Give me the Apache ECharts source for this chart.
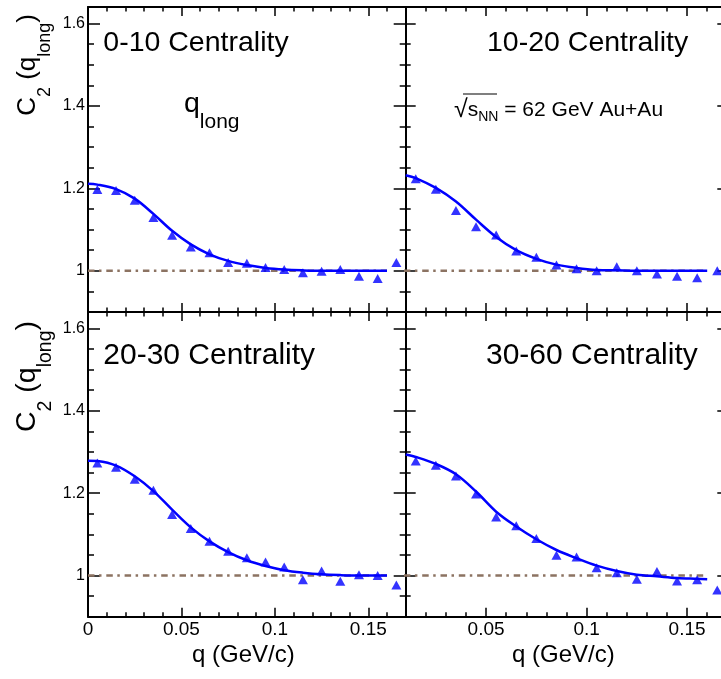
<!DOCTYPE html>
<html>
<head>
<meta charset="utf-8">
<script src="https://cdn.jsdelivr.net/npm/echarts@6/dist/echarts.min.js"></script>
<style>
html,body{margin:0;padding:0;background:#fff;}
#c{width:721px;height:679px;}
</style>
</head>
<body>
<div id="c"></div>
<script>
const FONT = '"Liberation Sans", Arial, Helvetica, sans-serif';

// ---- data ----
const qLeft  = [0.005, 0.015, 0.025, 0.035, 0.045, 0.055, 0.065, 0.075, 0.085, 0.095, 0.105, 0.115, 0.125, 0.135, 0.145, 0.155, 0.165];
const qRight = [0.015, 0.025, 0.035, 0.045, 0.055, 0.065, 0.075, 0.085, 0.095, 0.105, 0.115, 0.125, 0.135, 0.145, 0.155, 0.165];

const c2_0_10  = [1.197, 1.195, 1.171, 1.129, 1.086, 1.058, 1.044, 1.020, 1.018, 1.008, 1.003, 0.995, 0.999, 1.003, 0.987, 0.981, 1.020];
const c2_10_20 = [1.223, 1.198, 1.146, 1.107, 1.087, 1.048, 1.033, 1.014, 1.005, 1.000, 1.010, 1.000, 0.992, 0.987, 0.983, 1.000];
const c2_20_30 = [1.273, 1.263, 1.234, 1.207, 1.148, 1.114, 1.083, 1.059, 1.043, 1.033, 1.021, 0.990, 1.011, 0.986, 1.002, 1.000, 0.977];
const c2_30_60 = [1.278, 1.268, 1.242, 1.198, 1.142, 1.121, 1.090, 1.049, 1.045, 1.019, 1.007, 0.991, 1.010, 0.987, 0.990, 0.965];

const qFitLeft  = [0, 0.005, 0.015, 0.025, 0.035, 0.045, 0.055, 0.065, 0.075, 0.085, 0.095, 0.105, 0.115, 0.125, 0.135, 0.145, 0.155, 0.16];
const qFitRight = [0.01, 0.015, 0.025, 0.035, 0.045, 0.055, 0.065, 0.075, 0.085, 0.095, 0.105, 0.115, 0.125, 0.135, 0.145, 0.155, 0.16];

const fit_0_10  = [1.211, 1.209, 1.198, 1.175, 1.138, 1.097, 1.064, 1.040, 1.024, 1.014, 1.007, 1.003, 1.001, 1.000, 1.000, 1.000, 1.000, 1.000];
const fit_10_20 = [1.232, 1.225, 1.201, 1.168, 1.124, 1.082, 1.050, 1.029, 1.015, 1.007, 1.002, 1.001, 1.000, 1.000, 1.000, 1.000, 1.000];
const fit_20_30 = [1.279, 1.278, 1.267, 1.241, 1.205, 1.160, 1.117, 1.083, 1.057, 1.037, 1.023, 1.013, 1.007, 1.003, 1.001, 1.000, 1.000, 1.000];
const fit_30_60 = [1.294, 1.288, 1.271, 1.246, 1.204, 1.155, 1.119, 1.088, 1.062, 1.042, 1.024, 1.011, 1.002, 0.998, 0.994, 0.992, 0.991];

const refQ  = [0, 0.16];
const refC2 = [1, 1];

// ---- ticks ----
const xMajorLeft  = [0, 0.05, 0.1, 0.15];
const xMinorLeft  = [0.01, 0.02, 0.03, 0.04, 0.06, 0.07, 0.08, 0.09, 0.11, 0.12, 0.13, 0.14, 0.16];
const xMajorRight = [0.05, 0.1, 0.15];
const xMinorRight = [0.02, 0.03, 0.04, 0.06, 0.07, 0.08, 0.09, 0.11, 0.12, 0.13, 0.14, 0.16];
const yMajor = [1, 1.2, 1.4, 1.6];
const yMinor = [0.95, 1.05, 1.1, 1.15, 1.25, 1.3, 1.35, 1.45, 1.5, 1.55];

const panelLabels = ['0-10 Centrality', '10-20 Centrality', '20-30 Centrality', '30-60 Centrality'];

// ---- layout ----
const grids = [
  {left: 88,    top: 7,   width: 317.7, height: 305},
  {left: 405.7, top: 7,   width: 321.6, height: 305},
  {left: 88,    top: 312, width: 317.7, height: 304.7},
  {left: 405.7, top: 312, width: 321.6, height: 304.7}
].map(g => Object.assign({show: false, containLabel: false, outerBoundsMode: 'none'}, g));

const panels = [
  {q: qLeft,  c: c2_0_10,  fq: qFitLeft,  f: fit_0_10,  left: true,  bottom: false},
  {q: qRight, c: c2_10_20, fq: qFitRight, f: fit_10_20, left: false, bottom: false},
  {q: qLeft,  c: c2_20_30, fq: qFitLeft,  f: fit_20_30, left: true,  bottom: true},
  {q: qRight, c: c2_30_60, fq: qFitRight, f: fit_30_60, left: false, bottom: true}
];

const xAxes = [], yAxes = [], series = [];
const lineBlack = {color: '#000', width: 2};
const tickStyle = {color: '#000', width: 1.5};

panels.forEach((p, g) => {
  const xmin = p.left ? 0 : 0.01, xmax = 0.17;
  const xMaj = p.left ? xMajorLeft : xMajorRight;
  const xMin = p.left ? xMinorLeft : xMinorRight;
  const yLen = p.left ? 12 : 10;
  const base = {type: 'value', gridIndex: g, min: xmin, max: xmax, splitLine: {show: false}};
  ['bottom', 'top'].forEach(pos => {
    xAxes.push(Object.assign({}, base, {
      position: pos,
      axisLine: {show: true, onZero: false, lineStyle: lineBlack},
      axisTick: {show: true, inside: true, length: 9, customValues: xMaj, lineStyle: tickStyle},
      axisLabel: {show: pos === 'bottom' && p.bottom, customValues: xMaj, color: '#000',
                  fontSize: 19, fontFamily: FONT, margin: 4}
    }));
    xAxes.push(Object.assign({}, base, {
      position: pos,
      axisLine: {show: false, onZero: false},
      axisTick: {show: true, inside: true, length: 4.5, customValues: xMin, lineStyle: tickStyle},
      axisLabel: {show: false}
    }));
  });
  const ybase = {type: 'value', gridIndex: g, min: 0.9, max: 1.64, splitLine: {show: false}};
  ['left', 'right'].forEach(pos => {
    yAxes.push(Object.assign({}, ybase, {
      position: pos,
      axisLine: {show: p.left || pos === 'left', onZero: false, lineStyle: lineBlack},
      axisTick: {show: true, inside: true, length: yLen, customValues: yMajor, lineStyle: tickStyle},
      axisLabel: {show: pos === 'left' && p.left, customValues: yMajor, color: '#000',
                  fontSize: 16, fontFamily: FONT, margin: 3}
    }));
    yAxes.push(Object.assign({}, ybase, {
      position: pos,
      axisLine: {show: false, onZero: false},
      axisTick: {show: true, inside: true, length: yLen / 2, customValues: yMinor, lineStyle: tickStyle},
      axisLabel: {show: false}
    }));
  });
  const xi = 4 * g, yi = 4 * g;
  series.push({
    type: 'line', xAxisIndex: xi, yAxisIndex: yi, z: 1, silent: true,
    data: refQ.map((q, i) => [q, refC2[i]]), showSymbol: false, symbol: 'none',
    lineStyle: {color: '#8c7362', width: 2.4, type: [6.5, 4.5, 2.5, 4.8]}
  });
  series.push({
    type: 'line', xAxisIndex: xi, yAxisIndex: yi, z: 2, silent: true, smooth: 0.35,
    data: p.fq.map((q, i) => [q, p.f[i]]), showSymbol: false, symbol: 'none',
    lineStyle: {color: '#0000ff', width: 2.5}
  });
  series.push({
    type: 'scatter', xAxisIndex: xi, yAxisIndex: yi, z: 3, clip: true,
    data: p.q.map((q, i) => [q, p.c[i]]),
    symbol: 'triangle', symbolSize: [10, 9],
    itemStyle: {color: '#0000ff'}
  });
});

// ---- texts ----
const graphic = [];
function txt(x, y, text, size, align) {
  graphic.push({type: 'text', x: x, y: y, silent: true,
    style: {text: text, fontSize: size, fontFamily: FONT, fill: '#000', align: align || 'left', verticalAlign: 'middle'}});
}
txt(103.3, 43.2, panelLabels[0], 28.5);
txt(487, 43.2, panelLabels[1], 28.5);
txt(103.3, 355.4, panelLabels[2], 30);
txt(486, 355.4, panelLabels[3], 30);
txt(243.3, 655.7, 'q (GeV/c)', 24, 'center');
txt(563.3, 655.7, 'q (GeV/c)', 24, 'center');

// rich text: main tokens top-aligned (middle at size/2), subscripts pushed down by top padding
function richText(x, y, text, mainSize, subSize, subPad, rot, align, extra) {
  const rich = {
    m: {fontSize: mainSize, fontFamily: FONT, verticalAlign: 'top', fill: '#000'},
    s: {fontSize: subSize, fontFamily: FONT, verticalAlign: 'top', padding: [subPad, 0, 0, 0], fill: '#000'}
  };
  if (extra) Object.assign(rich, extra);
  graphic.push({type: 'text', x: x, y: y, rotation: rot || 0, silent: true,
    style: {text: text, align: align || 'left', verticalAlign: 'top', fill: '#000', rich: rich}});
}
// y titles
richText(15, 14, '{m|C}{s|2}{m| (q}{s|long}{m|)}', 26, 18, 21, Math.PI / 2, 'right');
richText(13, 321, '{m|C}{s|2}{m| (q}{s|long}{m|)}', 28.5, 19.5, 23, Math.PI / 2, 'right');
// q_long label
richText(184, 89.3, '{m|q}{s|long}', 28.5, 21, 22.9);
// sqrt(s_NN) label
richText(454, 99.5, '{r|√}{m|s}{s|NN}{m| = 62 GeV Au+Au}', 21, 14, 10.4, 0, 'left',
  {r: {fontSize: 25, fontFamily: FONT, verticalAlign: 'top', padding: [-2, 0, 0, 0], fill: '#000'}});
graphic.push({type: 'line', silent: true, shape: {x1: 463, y1: 94, x2: 497, y2: 94},
  style: {stroke: '#000', lineWidth: 1.2}});

const chart = echarts.init(document.getElementById('c'), null, {renderer: 'canvas'});
chart.setOption({
  backgroundColor: '#fff',
  animation: false,
  grid: grids,
  xAxis: xAxes,
  yAxis: yAxes,
  series: series,
  graphic: graphic
});
</script>
</body>
</html>
